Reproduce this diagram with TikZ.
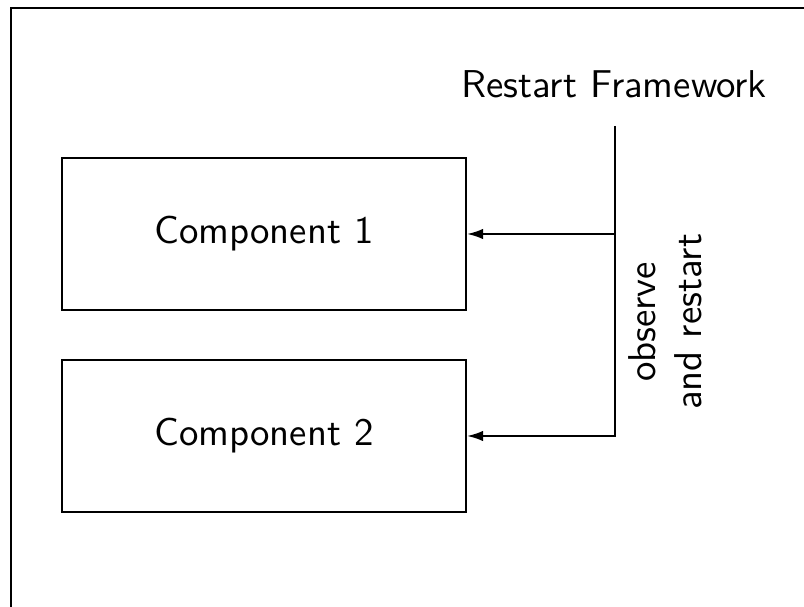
\documentclass[tikz,border=0pt]{standalone}
\usepackage{tikz}
\usetikzlibrary{calc,positioning,arrows.meta}

\begin{document}
\begin{tikzpicture}[x=0.25pt, y=-0.25pt, line width=0.5pt,
    font=\sffamily\fontsize{9.7}{11.4}\selectfont,
    compbox/.style={draw, minimum width=101pt, minimum height=38pt, inner sep=0pt},
    restartarrow/.style={-{Latex[length=4pt,width=2.6pt]}}]
    \useasboundingbox (0,0) rectangle (804,607);

    % Outer frame (cut off at right and bottom)
    \draw (11,607) -- (11,8) -- (804,8);

    % Components
    \node[compbox] (comp1) at (264,234) {Component 1};
    \node[compbox] (comp2) at (264,436) {Component 2};

    % Restart framework and its lines
    \node (fw) at (614,84) {Restart Framework};
    \coordinate (fwb) at (615,126);
    \draw[restartarrow] (fwb) |- (comp2.east);
    \draw[restartarrow] (fwb |- comp1.east) -- (comp1.east);

    \node[rotate=90, align=center] (obs) at (665,322) {observe\\and restart};
\end{tikzpicture}
\end{document}
